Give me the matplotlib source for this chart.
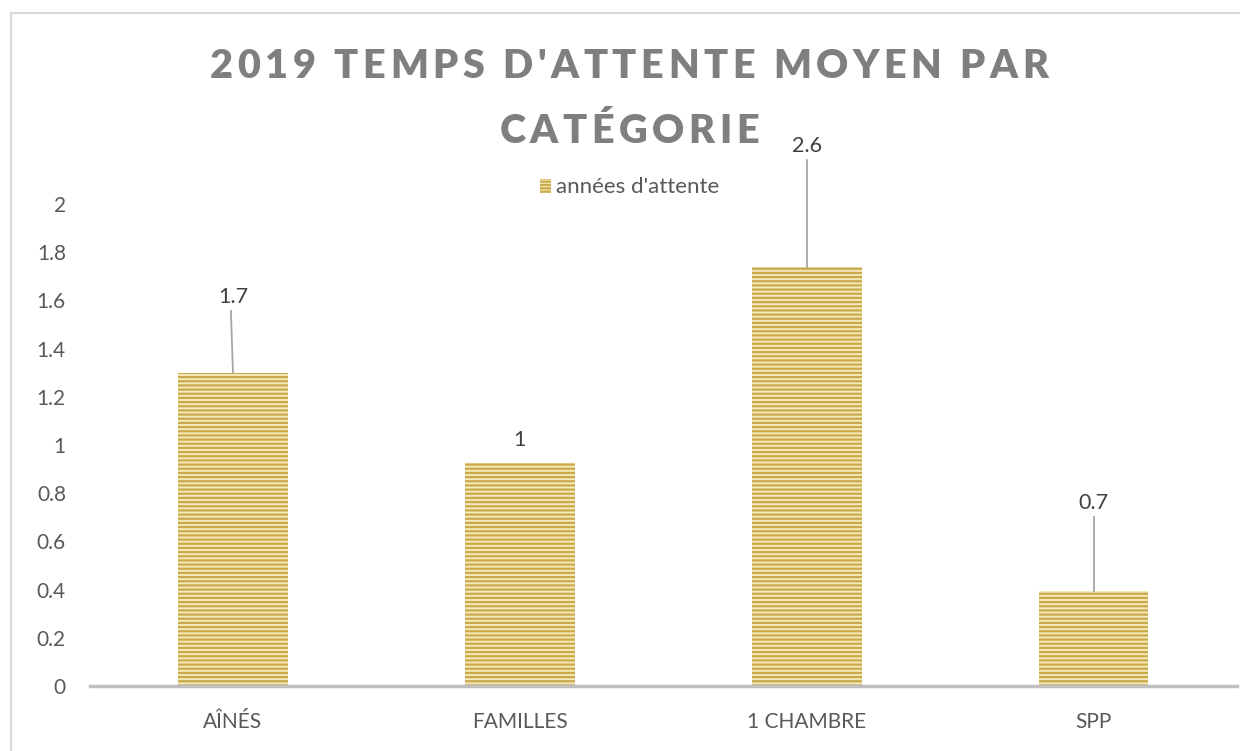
import matplotlib
matplotlib.use("Agg")
import matplotlib.pyplot as plt
from matplotlib.patches import Rectangle

categories = ["AÎNÉS", "FAMILLES", "1 CHAMBRE", "SPP"]
bar_heights = [1.30, 0.925, 1.74, 0.395]
label_texts = ["1.7", "1", "2.6", "0.7"]
label_y = [1.614, 1.02, 2.24, 0.76]
series_name = "années d'attente"
yticks = [0, 0.2, 0.4, 0.6, 0.8, 1, 1.2, 1.4, 1.6, 1.8, 2]
ytick_labels = ["0", "0.2", "0.4", "0.6", "0.8", "1", "1.2", "1.4", "1.6", "1.8", "2"]
title_lines = ["2019 TEMPS D'ATTENTE MOYEN PAR", "CATÉGORIE"]

W, H = 1240, 751
plt.rcParams['hatch.color'] = '#c9a94a'
plt.rcParams['hatch.linewidth'] = 1.6
plt.rcParams['font.family'] = ['Lato', 'DejaVu Sans']

fig = plt.figure(figsize=(W/100, H/100), dpi=100)
fig.patches.append(Rectangle((11/W, -0.1), 2.0, (H-13)/H + 0.1, transform=fig.transFigure,
                             fill=False, edgecolor='#d9d9d9', linewidth=1.5))

left, right = 89.5, 1237
y0, y2 = 686, 204
ax = fig.add_axes([left/W, 1 - y0/H, (right-left)/W, (y0-y2)/H])
x = list(range(len(categories)))
ax.bar(x, bar_heights, width=0.383, color='#f4e8bd', edgecolor='#c9a94a',
       linewidth=0, hatch='----')
ax.set_xlim(-0.5, len(categories) - 0.5)
ax.set_ylim(0, 2)
ax.set_yticks(yticks)
ax.set_yticklabels(ytick_labels)
ax.set_xticks(x)
ax.set_xticklabels(categories)
for s in ['top', 'right', 'left']:
    ax.spines[s].set_visible(False)
ax.spines['bottom'].set_color('#bfbfbf')
ax.spines['bottom'].set_linewidth(2.5)
ax.tick_params(axis='y', length=0, pad=17, labelsize=15, labelcolor='#595959')
ax.tick_params(axis='x', length=0, pad=19, labelsize=15, labelcolor='#595959')

for xi, h, t, ly in zip(x, bar_heights, label_texts, label_y):
    ax.text(xi, ly, t, ha='center', va='center', fontsize=15.5, color='#404040', clip_on=False)
    if ly - h > 0.15:
        ax.plot([xi - 0.007 if t == "1.7" else xi, xi], [ly - 0.058, h], color='#a6a6a6',
                linewidth=1.3, clip_on=False)

# legend
fig.patches.append(Rectangle((540/W, 1 - 193/H), 11/W, 14/H, transform=fig.transFigure,
                             facecolor='#f4e8bd', edgecolor='#c9a94a', linewidth=0, hatch='-----'))
fig.text(556/W, 1 - 187/H, series_name, ha='left', va='center', fontsize=16, color='#595959')

# title with letter spacing
renderer = fig.canvas.get_renderer()
tprops = dict(fontsize=28.5, fontweight='heavy', color='#7f7f7f', family=['Lato', 'DejaVu Sans'])

def text_w(s):
    t = fig.text(0, 0, s, **tprops)
    w = t.get_window_extent(renderer).width
    t.remove()
    return w

ref_w = text_w("||")
def adv(c):
    return text_w("|" + c + "|") - ref_w

adv1 = [adv(c) for c in title_lines[0]]
spacing = (838 - sum(adv1)) / (len(title_lines[0]) - 1)
for line, base in zip(title_lines, [78, 143]):
    advs = [adv(c) for c in line]
    total = sum(advs) + spacing * (len(line) - 1)
    px = 629 - total / 2
    for c, a in zip(line, advs):
        fig.text(px / W, 1 - base / H, c, ha='left', va='baseline', **tprops)
        px += a + spacing

fig.savefig("out.png", dpi=100)
